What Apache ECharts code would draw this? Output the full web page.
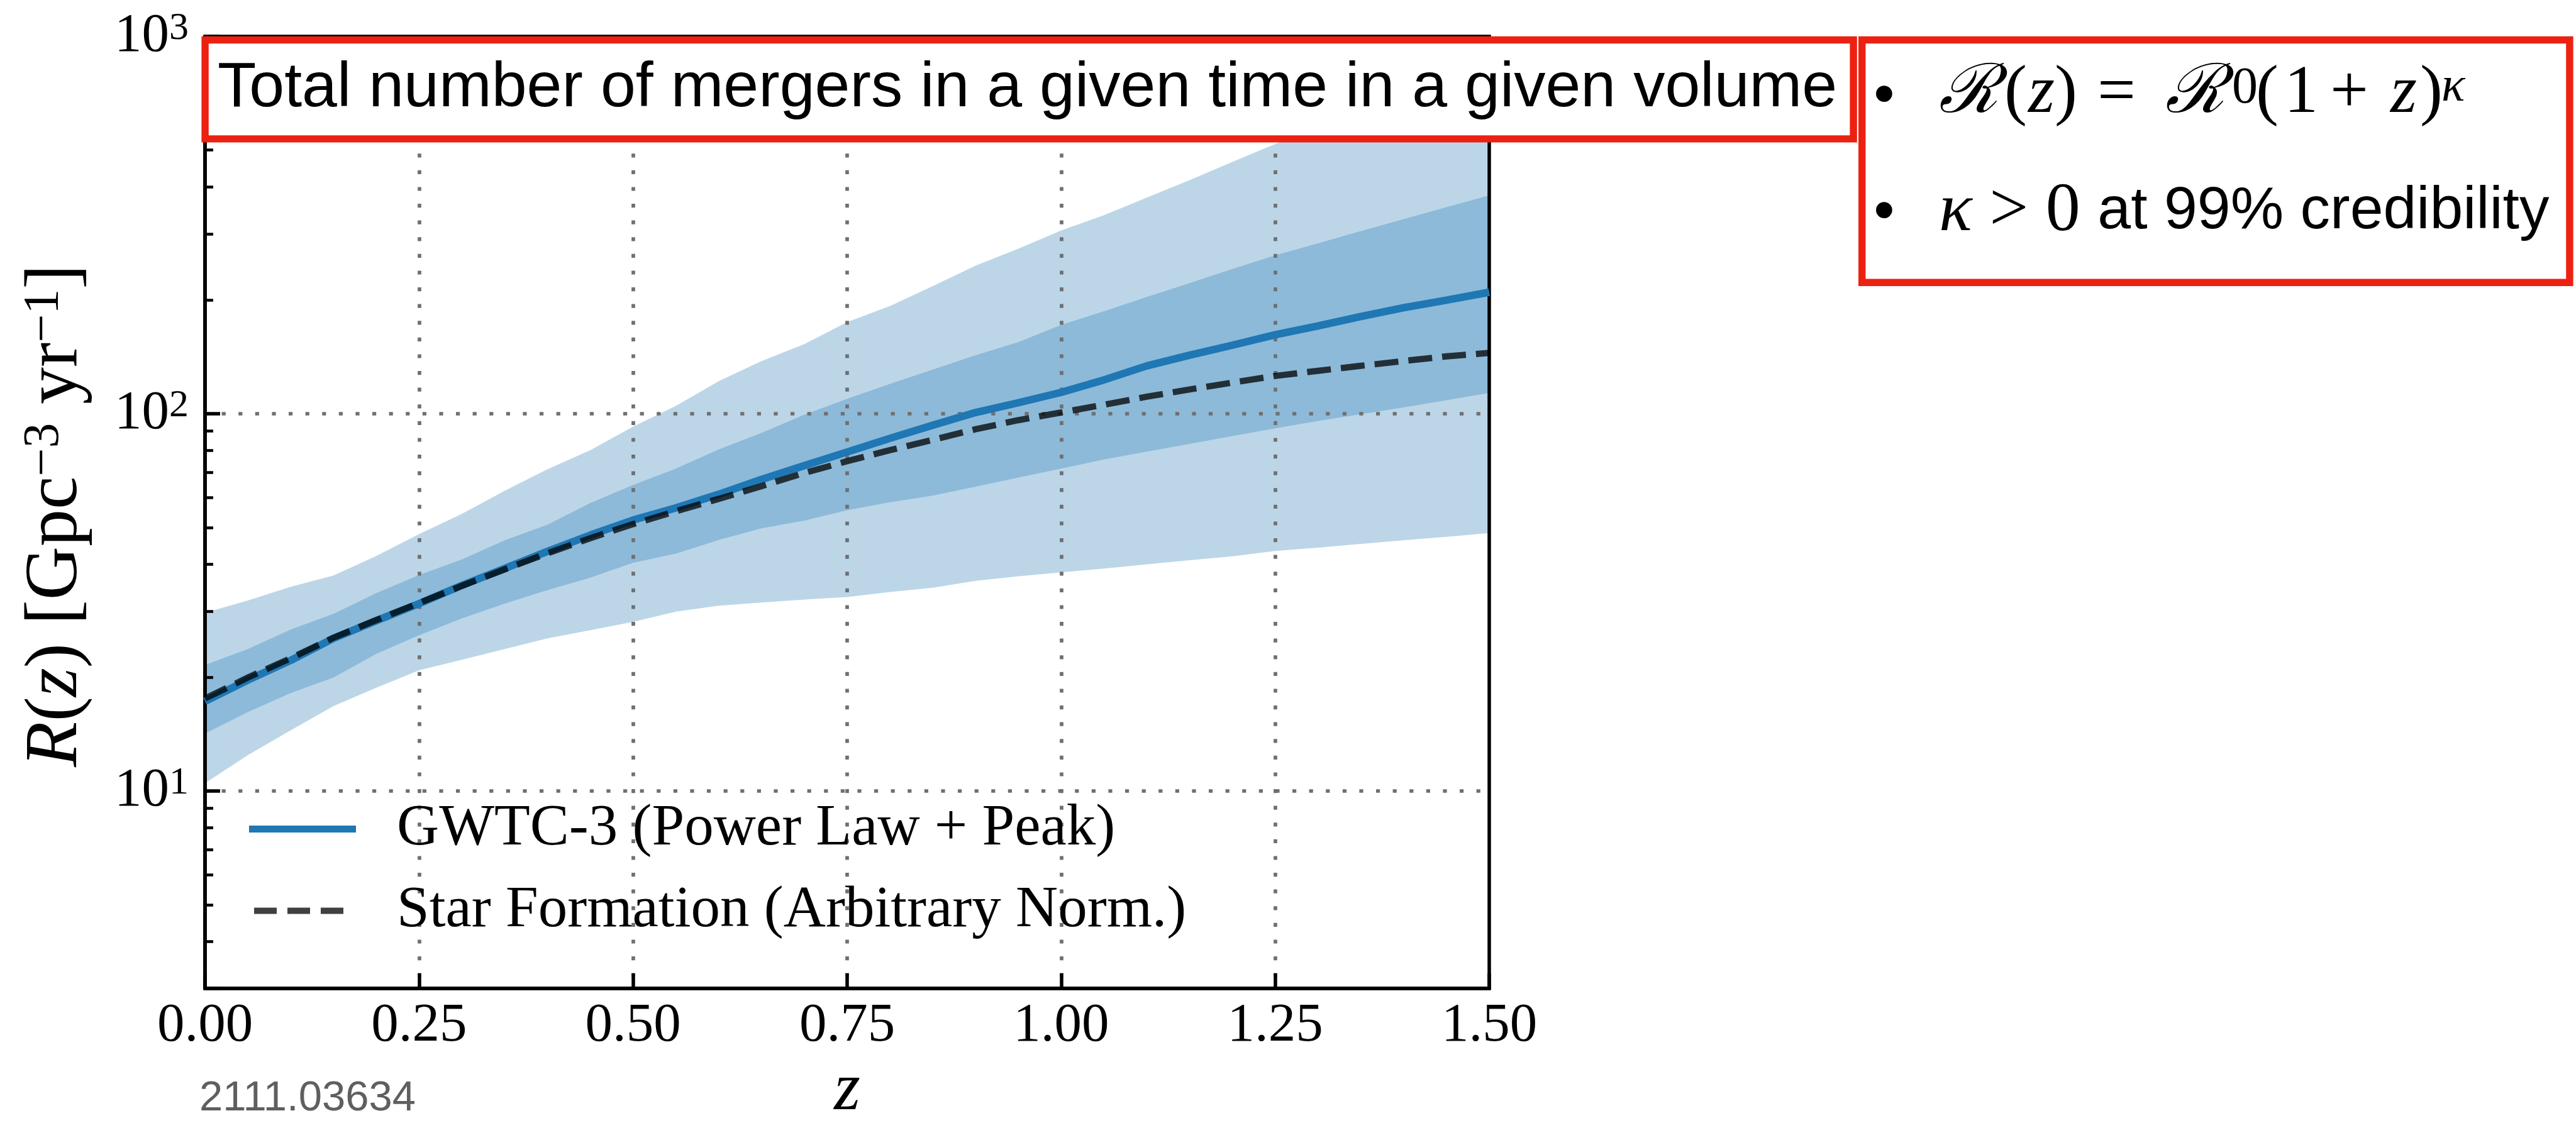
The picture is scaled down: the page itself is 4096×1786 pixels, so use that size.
<!DOCTYPE html>
<html>
<head>
<meta charset="utf-8">
<script src="https://cdn.jsdelivr.net/npm/echarts@6/dist/echarts.min.js"></script>
<style>
  html, body { margin: 0; padding: 0; background: #ffffff; }
  #chart { width: 4096px; height: 1786px; }
</style>
</head>
<body>
<div id="chart"></div>
<script>
// Redshift grid
const redshift = [0, 0.05, 0.1, 0.15, 0.2, 0.25, 0.3, 0.35, 0.4, 0.45, 0.5, 0.55, 0.6, 0.65, 0.7, 0.75,
                  0.8, 0.85, 0.9, 0.95, 1.0, 1.05, 1.1, 1.15, 1.2, 1.25, 1.3, 1.35, 1.4, 1.45, 1.5];
// GWTC-3 merger rate (Power Law + Peak): median and credible bounds [Gpc^-3 yr^-1]
const rateMedian = [17.3, 19.7, 22.2, 25.4, 28.3, 31.4, 35.1, 38.9, 43.2, 47.7, 52.3, 56.3, 61.2, 67.0, 72.9, 79.2,
                    86.1, 93.3, 100.8, 107, 114, 123, 134, 143, 152, 162, 171, 181, 191, 200, 210];
const rateLow50  = [14.2, 16.2, 18.2, 20.0, 23.1, 25.9, 28.7, 31.4, 34.1, 36.8, 40.3, 42.6, 46.3, 49.7, 52.1, 55.5,
                    58.3, 60.7, 64.1, 67.8, 71.6, 75.7, 79.4, 83.2, 87.3, 91.5, 95.7, 99.8, 104, 108.6, 113.6];
const rateHigh50 = [21.6, 23.8, 26.8, 29.5, 33.5, 37.4, 41.1, 46.2, 50.8, 58.0, 64.8, 71.6, 80.5, 89.0, 99.5, 109.6,
                    120, 131, 143, 155, 172, 187, 204, 222, 242, 263, 283, 305, 328, 353, 379];
const rateLow90  = [10.5, 12.45, 14.5, 16.8, 18.8, 20.9, 22.3, 23.8, 25.4, 26.7, 28.1, 29.9, 31.0, 31.6, 32.2, 32.7,
                    33.7, 34.6, 36.1, 37.1, 38.0, 38.9, 39.9, 40.9, 41.9, 43.3, 44.2, 45.2, 46.2, 47.2, 48.3];
const rateHigh90 = [29.7, 32.0, 34.8, 37.3, 42.0, 48.0, 54.3, 62.5, 71.3, 80.1, 92.5, 105, 122, 138, 153, 175,
                    193, 218, 247, 274, 306, 336, 374, 416, 465, 519, 575, 630, 690, 755, 830];
// Star formation history, arbitrary normalisation
const starFormation = [17.6, 20.0, 22.5, 25.5, 28.4, 31.5, 35.0, 38.7, 42.7, 46.8, 51.0, 55.2, 59.5, 64.3, 69.7, 74.9,
                       80.1, 85.3, 91.0, 96.2, 100.8, 105.7, 111, 116, 121, 126, 130, 134, 138, 142, 145];

// Axis ticks
const xTickStep = 0.25;
const yMajorTicks = [10, 100, 1000];
const yMinorTicks = [4, 5, 6, 7, 8, 9, 20, 30, 40, 50, 60, 70, 80, 90, 200, 300, 400, 500, 600, 700, 800, 900];

const nameMedian = 'GWTC-3 (Power Law + Peak)';
const nameSFR = 'Star Formation (Arbitrary Norm.)';

const pairs = (ys) => redshift.map((z, i) => [z, ys[i]]);

const SERIF = 'Liberation Serif';
const SANS = 'Liberation Sans';
const INK = '#000000';
const RED = '#ec2112';
const BLUE = '#1f77b4';
const DASH_INK = 'rgba(0,0,0,0.75)';
const gridDots = { color: '#6f6f6f', width: 5.7, type: [6.2, 20.4], cap: 'butt' };

// Credible band: polygon along the upper bound and back along the lower bound
function bandSeries(name, lower, upper, color, z) {
  return {
    name: name, type: 'custom', coordinateSystem: 'cartesian2d',
    data: [[redshift[0], lower[0]]], silent: true, clip: true, z: z,
    renderItem: (params, api) => {
      const pts = [];
      for (let i = 0; i < redshift.length; i++) pts.push(api.coord([redshift[i], upper[i]]));
      for (let i = redshift.length - 1; i >= 0; i--) pts.push(api.coord([redshift[i], lower[i]]));
      return { type: 'polygon', shape: { points: pts }, style: { fill: color, stroke: null } };
    }
  };
}

const chart = echarts.init(document.getElementById('chart'), null, { renderer: 'canvas', width: 4096, height: 1786 });

// rich-text pieces of the rate formula, each with its own advance width
const mathBase = { fontFamily: SERIF, fontSize: 108, lineHeight: 100, fill: INK };
const mathItal = { fontFamily: SERIF, fontStyle: 'italic', fontSize: 108, lineHeight: 100, fill: INK };
const scriptR = { fontFamily: 'DejaVu Serif', fontStyle: 'italic', fontSize: 108, lineHeight: 100, fill: INK };

const option = {
  backgroundColor: '#ffffff',
  animation: false,
  grid: {
    left: 326, top: 58, width: 2042, height: 1514,
    containLabel: false, outerBoundsMode: 'none',
    show: true, borderColor: INK, borderWidth: 5.5, backgroundColor: 'transparent'
  },
  legend: {
    data: [
      { name: nameMedian, icon: 'rect' },
      { name: nameSFR, icon: 'path://M0,4.95h0.05v0.1h-0.05Z M8,0H44V10H8Z M61,0H97V10H61Z M114,0H150V10H114Z M169.95,4.95h0.05v0.1h-0.05Z' }
    ],
    orient: 'vertical',
    left: 396, top: 1272,
    padding: 0,
    itemWidth: 170, itemHeight: 11, itemGap: 37,
    selectedMode: false,
    itemStyle: { borderWidth: 0 },
    textStyle: { fontFamily: SERIF, fontSize: 93, lineHeight: 93, color: INK, padding: [0, 0, 0, 60] }
  },
  xAxis: {
    type: 'value', min: 0, max: 1.5, interval: xTickStep,
    axisLine: { lineStyle: { color: INK, width: 5.5 } },
    axisTick: { inside: true, length: 24, lineStyle: { color: INK, width: 5.5 } },
    axisLabel: {
      fontFamily: SERIF, fontSize: 87, color: INK, margin: 60, verticalAlign: 'middle', lineHeight: 87,
      formatter: (v) => v.toFixed(2)
    },
    splitLine: { show: true, showMinLine: false, showMaxLine: false, lineStyle: gridDots },
    name: 'z', nameLocation: 'middle', nameGap: 164,
    nameTextStyle: { fontFamily: SERIF, fontStyle: 'italic', fontSize: 107, color: INK, verticalAlign: 'middle', lineHeight: 107 }
  },
  yAxis: [
    {
      type: 'log', logBase: 10, min: 3, max: 1000, position: 'left',
      axisLine: { lineStyle: { color: INK, width: 5.5 } },
      axisTick: { inside: true, length: 24, lineStyle: { color: INK, width: 5.5 } },
      axisLabel: {
        margin: 26,
        formatter: (v) => yMajorTicks.includes(Math.round(v)) && Math.abs(v - Math.round(v)) < 1e-6
          ? '{b|10}{s|' + Math.round(Math.log10(v)) + '}' : '',
        rich: {
          b: { fontFamily: SERIF, fontSize: 87, lineHeight: 87, color: INK },
          s: { fontFamily: SERIF, fontSize: 62, lineHeight: 39, color: INK, verticalAlign: 'top' }
        }
      },
      splitLine: { show: true, showMinLine: false, showMaxLine: false, lineStyle: gridDots }
    },
    {
      // minor ticks at 2..9 x 10^n
      type: 'log', logBase: 10, min: 3, max: 1000, position: 'left',
      axisLine: { show: false },
      axisTick: { show: true, inside: true, length: 13, customValues: yMinorTicks, lineStyle: { color: INK, width: 4.5 } },
      axisLabel: { show: false },
      splitLine: { show: false }
    }
  ],
  series: [
    bandSeries('90% credible', rateLow90, rateHigh90, '#bcd6e8', -2),
    bandSeries('50% credible', rateLow50, rateHigh50, '#8dbad9', -1),
    { name: nameMedian, type: 'line', data: pairs(rateMedian), symbol: 'none',
      lineStyle: { color: BLUE, width: 12 }, itemStyle: { color: BLUE }, z: 3 },
    { name: nameSFR, type: 'line', data: pairs(starFormation), symbol: 'none',
      lineStyle: { color: DASH_INK, width: 10, type: [38, 16] }, itemStyle: { color: DASH_INK }, z: 4 }
  ],
  graphic: [
    // y-axis title
    {
      type: 'text', x: 90, y: 820, rotation: Math.PI / 2, z: 50,
      style: {
        text: '{i|R}{r|(}{i|z}{r|) [Gpc}{s|\u22123}{r| yr}{s|\u22121}{r|]}',
        align: 'center', verticalAlign: 'middle',
        rich: {
          i: { fontFamily: SERIF, fontStyle: 'italic', fontSize: 118, lineHeight: 118, fill: INK },
          r: { fontFamily: SERIF, fontSize: 118, lineHeight: 118, fill: INK },
          s: { fontFamily: SERIF, fontSize: 80, lineHeight: 66, fill: INK, verticalAlign: 'top' }
        }
      }
    },
    // arXiv reference
    {
      type: 'text', x: 489, y: 1748, z: 50,
      style: { text: '2111.03634', fontFamily: SANS, fontSize: 67, fill: '#5f5f5f', align: 'center', verticalAlign: 'middle' }
    },
    // headline box
    {
      type: 'rect', z: 100,
      shape: { x: 326.1, y: 63.5, width: 2621, height: 157.4 },
      style: { fill: '#ffffff', stroke: RED, lineWidth: 11.4 }
    },
    {
      type: 'text', x: 346, y: 141, z: 101,
      style: { text: 'Total number of mergers in a given time in a given volume', fontFamily: SANS, fontSize: 100.5,
               fill: INK, align: 'left', verticalAlign: 'middle' }
    },
    // notes box
    {
      type: 'rect', z: 100,
      shape: { x: 2960.7, y: 63.5, width: 1125.2, height: 385.8 },
      style: { fill: '#ffffff', stroke: RED, lineWidth: 11.4 }
    },
    {
      type: 'text', x: 2996, y: 155, z: 101,
      style: { text: '\u2022', fontFamily: SANS, fontSize: 95, fill: INK, align: 'center', verticalAlign: 'middle' }
    },
    {
      type: 'text', x: 2996, y: 340, z: 101,
      style: { text: '\u2022', fontFamily: SANS, fontSize: 95, fill: INK, align: 'center', verticalAlign: 'middle' }
    },
    {
      type: 'text', x: 3083, y: 150, z: 101,
      style: {
        text: '{R1|\u211B}{o1|(}{z1|z}{c1|)}{eq|=}{R2|\u211B}{p|0}{o2|(}{one|1}{pl|+}{z2|z}{c2|)}{k|\u03BA}',
        align: 'left', verticalAlign: 'middle',
        rich: {
          R1: Object.assign({ width: 104 }, scriptR),
          o1: Object.assign({ width: 38 }, mathBase),
          z1: Object.assign({ width: 42 }, mathItal),
          c1: Object.assign({ width: 68 }, mathBase),
          eq: Object.assign({ width: 108 }, mathBase),
          R2: Object.assign({ width: 106 }, scriptR),
          p: { width: 38, fontFamily: SERIF, fontSize: 82, lineHeight: 14, fill: INK, verticalAlign: 'top' },
          o2: Object.assign({ width: 45 }, mathBase),
          one: Object.assign({ width: 73 }, mathBase),
          pl: Object.assign({ width: 96 }, mathBase),
          z2: Object.assign({ width: 47 }, mathItal),
          c2: Object.assign({ width: 34 }, mathBase),
          k: { fontFamily: SERIF, fontStyle: 'italic', fontSize: 78, lineHeight: 28, fill: INK, verticalAlign: 'top' }
        }
      }
    },
    {
      type: 'text', x: 3083, y: 337, z: 101,
      style: {
        text: '{k|\u03BA}{m| > 0 }{t|at 99% credibility}',
        align: 'left', verticalAlign: 'middle',
        rich: {
          k: { fontFamily: SERIF, fontStyle: 'italic', fontSize: 110, lineHeight: 110, fill: INK },
          m: { fontFamily: SERIF, fontSize: 110, lineHeight: 110, fill: INK },
          t: { fontFamily: SANS, fontSize: 95, lineHeight: 110, fill: INK }
        }
      }
    }
  ]
};

chart.setOption(option);
</script>
</body>
</html>
